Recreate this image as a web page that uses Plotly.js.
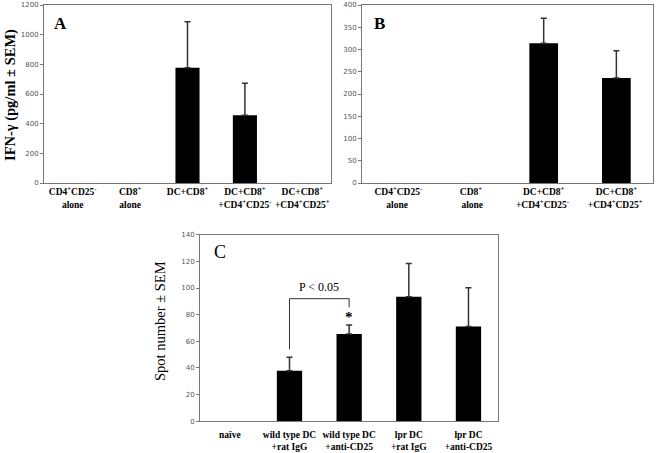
<!DOCTYPE html>
<html>
<head>
<meta charset="utf-8">
<script src="https://cdn.plot.ly/plotly-3.0.1.min.js"></script>
<style>html,body{margin:0;padding:0;background:#fff}#chart{width:656px;height:453px}</style>
</head>
<body>
<div id="chart"></div>
<script>
// Panel A
const catsA = ['CD4<sup>+</sup>CD25<sup>-</sup><br>alone', 'CD8<sup>+</sup><br>alone', 'DC+CD8<sup>+</sup><br> ', 'DC+CD8<sup>+</sup><br>+CD4<sup>+</sup>CD25<sup>-</sup>', 'DC+CD8<sup>+</sup><br>+CD4<sup>+</sup>CD25<sup>+</sup>'];
const valsA = [null, null, 777, 456, null];
const errA = [null, null, 310, 216, null];
const ticksA = [0, 200, 400, 600, 800, 1000, 1200];
// Panel B
const catsB = ['CD4<sup>+</sup>CD25<sup>-</sup><br>alone ', 'CD8<sup>+</sup><br> alone', 'DC+CD8<sup>+</sup><br>+CD4<sup>+</sup>CD25<sup>-</sup> ', 'DC+CD8<sup>+</sup><br>+CD4<sup>+</sup>CD25<sup>+</sup> '];
const valsB = [null, null, 314, 236];
const errB = [null, null, 56, 61];
const ticksB = [0, 50, 100, 150, 200, 250, 300, 350, 400];
// Panel C
const catsC = ['naïve', 'wild type DC<br>+rat IgG', 'wild type DC<br>+anti-CD25', 'lpr DC<br>+rat IgG', 'lpr DC<br>+anti-CD25'];
const valsC = [null, 38, 65.5, 93.4, 71.2];
const errC = [null, 10, 6.7, 25, 29];
const ticksC = [0, 20, 40, 60, 80, 100, 120, 140];
// significance bracket (category index, value)
const bracketX = [1, 2];
const bracketY = [54, 92, 85.5];
const sigText = 'P < 0.05';

const SERIF = '"Liberation Serif", "Times New Roman", serif';
const tickFont = {family: '"DejaVu Sans", Verdana, sans-serif', size: 7, color: '#555'};
const catFont = {family: SERIF, size: 9.5, color: '#000', weight: 'bold'};

function barTrace(cats, vals, errs, xa, ya, w) {
  return {
    type: 'bar', x: cats, y: vals, xaxis: xa, yaxis: ya, width: w,
    marker: {color: '#000'}, showlegend: false, hoverinfo: 'skip',
    error_y: {type: 'data', array: errs, symmetric: false, arrayminus: errs.map(() => 0),
      color: '#333', thickness: 1.5, width: 3}
  };
}

const data = [
  barTrace(catsA, valsA, errA, 'x', 'y', 0.42),
  barTrace(catsB, valsB, errB, 'x2', 'y2', 0.395),
  barTrace(catsC, valsC, errC, 'x3', 'y3', 0.424)
];

function xax(domain, cats, anchor, standoff) {
  return {domain: domain, anchor: anchor, type: 'category', categoryorder: 'array', categoryarray: cats,
    showline: true, linecolor: '#777', linewidth: 1, mirror: true, ticks: '', showgrid: false,
    tickfont: catFont, tickangle: 0, automargin: false, ticklabelstandoff: standoff, fixedrange: true};
}
function yax(domain, ticks, anchor) {
  return {domain: domain, anchor: anchor, range: [0, ticks[ticks.length - 1]], tickvals: ticks,
    showline: true, linecolor: '#777', linewidth: 1, mirror: true, ticks: 'outside', ticklen: 3,
    tickcolor: '#777', showgrid: false, zeroline: false, tickfont: tickFont, automargin: false, fixedrange: true};
}

function ann(text, x, y, size, extra) {
  return Object.assign({text: text, xref: 'paper', yref: 'paper', x: x / 656, y: 1 - y / 453,
    xanchor: 'center', yanchor: 'middle', showarrow: false,
    font: {family: SERIF, size: size, color: '#000'}}, extra || {});
}

const layout = {
  width: 656, height: 453, margin: {l: 0, r: 0, t: 0, b: 0},
  paper_bgcolor: '#fff', plot_bgcolor: '#fff',
  xaxis: xax([44/656, 331/656], catsA, 'y', 0),
  yaxis: yax([1 - 183/453, 1 - 5/453], ticksA, 'x'),
  xaxis2: xax([362/656, 652.7/656], catsB, 'y2', 0),
  yaxis2: yax([1 - 183/453, 1 - 5/453], ticksB, 'x2'),
  xaxis3: xax([200/656, 498.3/656], catsC, 'y3', 4),
  yaxis3: yax([1 - 421.3/453, 1 - 234.7/453], ticksC, 'x3'),
  shapes: [
    {type: 'path', xref: 'x3', yref: 'y3',
      path: `M ${bracketX[0]} ${bracketY[0]} L ${bracketX[0]} ${bracketY[1]} L ${bracketX[1]} ${bracketY[1]} L ${bracketX[1]} ${bracketY[2]}`,
      line: {color: '#333', width: 1}}
  ],
  annotations: [
    ann('<b>A</b>', 60, 23, 17),
    ann('<b>B</b>', 379, 23, 17),
    ann('C', 220, 252, 18),
    ann('<b>IFN-γ (pg/ml ± SEM)</b>', 11, 95, 14.5, {textangle: -90}),
    ann('Spot number ± SEM', 160, 321, 14.5, {textangle: -90}),
    {text: sigText, xref: 'x3', yref: 'y3', x: (bracketX[0] + bracketX[1]) / 2, y: bracketY[1],
      xanchor: 'center', yanchor: 'bottom', yshift: 3, showarrow: false, font: {family: SERIF, size: 12, color: '#000'}},
    {text: '<b>*</b>', xref: 'x3', yref: 'y3', x: bracketX[1], y: valsC[2] + errC[2],
      xanchor: 'center', yanchor: 'bottom', yshift: -2, showarrow: false, font: {family: SERIF, size: 15, color: '#000'}}
  ]
};

Plotly.newPlot('chart', data, layout, {displayModeBar: false, staticPlot: true});
</script>
</body>
</html>
